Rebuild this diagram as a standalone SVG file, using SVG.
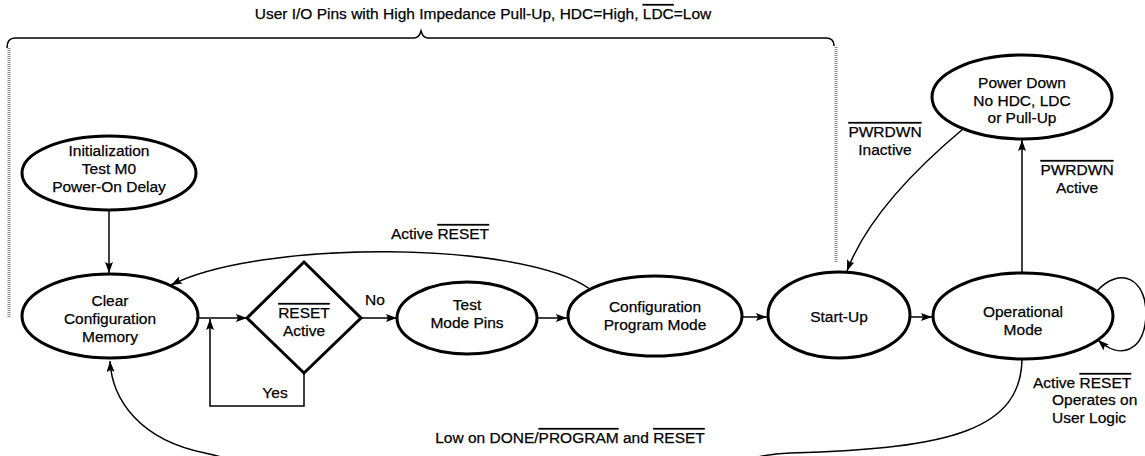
<svg xmlns="http://www.w3.org/2000/svg" width="1145" height="456" viewBox="0 0 1145 456">
<defs>
<marker id="ah" markerUnits="userSpaceOnUse" markerWidth="12" markerHeight="10" refX="11" refY="4" orient="auto">
<path d="M0,0 L11,4 L0,8 L2,4 Z" fill="#000"/>
</marker>
<style>
text{font-family:"Liberation Sans",Arial,sans-serif;font-size:15.5px;fill:#000;stroke:#000;stroke-width:0.25;text-anchor:middle}
.st{fill:#fff;stroke:#000;stroke-width:3}
.c{fill:none;stroke:#000;stroke-width:1.5}
.ca{fill:none;stroke:#000;stroke-width:1.5;marker-end:url(#ah)}
.dot{fill:none;stroke:#8a8a8a;stroke-width:3;stroke-dasharray:1 1}
.ol{text-decoration:overline}
.l{text-anchor:start}
</style>
</defs>
<g id="brace">
<path class="c" d="M7,48 Q7,38 15,38 L414,38 Q419,38 421,31 Q423,38 428,38 L826,38 Q834,38 834,46"/>
<line class="dot" x1="9" y1="48" x2="9" y2="318"/>
<line class="dot" x1="836" y1="47" x2="836" y2="262"/>
<text x="483" y="19">User I/O Pins with High Impedance Pull-Up, HDC=High, <tspan class="ol">LDC</tspan>=Low</text>
</g>
<g id="connectors">
<path class="ca" d="M109,211 L109,273"/>
<path class="ca" d="M198,318 L247,318"/>
<path class="ca" d="M304,374 L304,406 L210,406 L210,319"/>
<path class="ca" d="M361,318 L397,318"/>
<path class="ca" d="M537,318 L567,318"/>
<path class="ca" d="M742,317 L767,317"/>
<path class="ca" d="M910,317 L932,317"/>
<path class="ca" d="M1022,273 L1022,140"/>
<path class="ca" d="M963,129 C920,165 868,215 847,271"/>
<path class="ca" d="M590,289 C520,240 260,240 171,285"/>
<path class="ca" d="M1097,291 C1120,266 1147,278 1146,316 C1144,352 1120,360 1098,340"/>
<path class="ca" d="M1022,360 C1020,428 955,449 790,453 C720,455 680,500 500,500 C330,500 260,465 205,453 C140,440 112,400 110,361"/>
<text x="440" y="239">Active <tspan class="ol">RESET</tspan></text>
<text x="375" y="305">No</text>
<text x="275" y="398">Yes</text>
<text x="885" y="137" class="ol">PWRDWN</text>
<text x="885" y="155">Inactive</text>
<text x="1077" y="175" class="ol">PWRDWN</text>
<text x="1077" y="193">Active</text>
<text x="1033" y="388" class="l">Active <tspan class="ol">RESET</tspan></text>
<text x="1052" y="405" class="l">Operates on</text>
<text x="1052" y="423" class="l">User Logic</text>
<text x="570" y="443">Low on DONE/<tspan class="ol">PROGRAM</tspan> and <tspan class="ol">RESET</tspan></text>
</g>
<g id="init">
<ellipse class="st" cx="109" cy="173" rx="87" ry="37"/>
<text x="109" y="156">Initialization</text>
<text x="109" y="174">Test M0</text>
<text x="109" y="192">Power-On Delay</text>
</g>
<g id="clear">
<ellipse class="st" cx="110" cy="316" rx="88" ry="42"/>
<text x="110" y="306">Clear</text>
<text x="110" y="324">Configuration</text>
<text x="110" y="342">Memory</text>
</g>
<g id="reset-decision">
<polygon class="st" points="304,262 361,318 304,373 247,318"/>
<text x="304" y="318" class="ol">RESET</text>
<text x="304" y="336">Active</text>
</g>
<g id="test">
<ellipse class="st" cx="467" cy="318" rx="70" ry="36"/>
<text x="467" y="310">Test</text>
<text x="467" y="328">Mode Pins</text>
</g>
<g id="config">
<ellipse class="st" cx="655" cy="316" rx="87" ry="40"/>
<text x="655" y="312">Configuration</text>
<text x="655" y="330">Program Mode</text>
</g>
<g id="startup">
<ellipse class="st" cx="839" cy="315" rx="71" ry="43"/>
<text x="839" y="322">Start-Up</text>
</g>
<g id="operational">
<ellipse class="st" cx="1023" cy="316" rx="90" ry="43"/>
<text x="1023" y="317">Operational</text>
<text x="1023" y="335">Mode</text>
</g>
<g id="powerdown">
<ellipse class="st" cx="1022" cy="97" rx="90" ry="42"/>
<text x="1022" y="88">Power Down</text>
<text x="1022" y="106">No HDC, LDC</text>
<text x="1022" y="123">or Pull-Up</text>
</g>
</svg>
